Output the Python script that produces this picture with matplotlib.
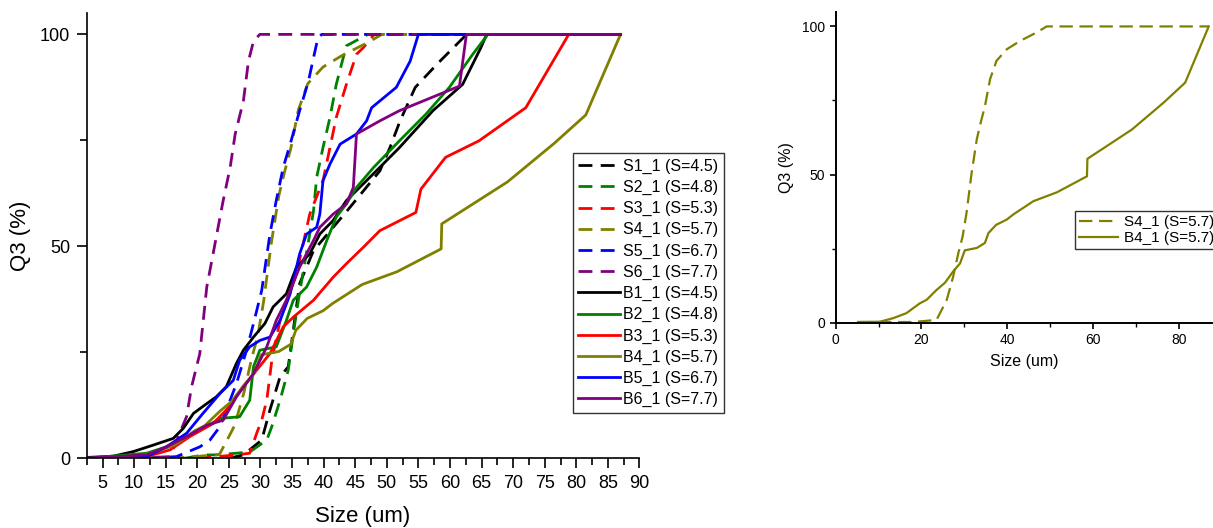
import matplotlib.pyplot as plt
from matplotlib.ticker import MultipleLocator

plt.rcParams['font.family'] = ['Liberation Sans', 'DejaVu Sans']

# Series labels and colours
labels_s = ['S1_1 (S=4.5)', 'S2_1 (S=4.8)', 'S3_1 (S=5.3)', 'S4_1 (S=5.7)', 'S5_1 (S=6.7)', 'S6_1 (S=7.7)']
labels_b = ['B1_1 (S=4.5)', 'B2_1 (S=4.8)', 'B3_1 (S=5.3)', 'B4_1 (S=5.7)', 'B5_1 (S=6.7)', 'B6_1 (S=7.7)']
colors = ['#000000', '#008000', '#FF0000', '#808000', '#0000FF', '#800080']

# Dashed (S) curves
s1_x = [25, 27.3, 30.2, 31.5, 33.1, 34.4, 36.2, 38.4, 43.5, 48.9, 50.5, 52.1, 54.5, 57.9, 62.1, 62.6, 87]
s1_y = [0, 0.8, 4.3, 11.4, 19.2, 21.6, 41.2, 49, 58, 67.8, 73.3, 79.6, 87.5, 92.9, 99.2, 100, 100]
s2_x = [18, 21, 23, 26.2, 28.3, 31, 31.8, 33.1, 34.4, 35.2, 36, 36.8, 37.8, 38.4, 38.9, 39.9, 41, 42, 43.1, 43.6, 47, 87]
s2_y = [0, 0.8, 0.8, 1.2, 1.5, 4.3, 7.5, 13.7, 20.8, 29.4, 37.3, 44.3, 52.9, 58.4, 66.3, 73.3, 80.4, 88.2, 94.5, 97.3, 100, 100]
s3_x = [20, 26.2, 28.3, 29.4, 30.2, 31, 31.8, 33.1, 35.7, 37.8, 39.9, 41, 42, 43.6, 45.2, 46.3, 48, 87]
s3_y = [0, 0.8, 1.2, 5.9, 9, 13.7, 23.1, 32.5, 43.5, 57.6, 65.5, 73.3, 80.4, 88.2, 95.3, 96.9, 100, 100]
s4_x = [5.2, 18, 23.5, 25.1, 25.9, 27.4, 28.6, 29.6, 30.5, 31.7, 32.9, 33.7, 34.8, 36, 37.5, 39.9, 43, 46.9, 49.2, 87]
s4_y = [0.2, 0.2, 0.9, 5.4, 7.7, 15.6, 23.5, 29.1, 37, 50.6, 61.9, 66.9, 73.1, 82.2, 88.4, 92.3, 95.1, 98, 100, 100]
s5_x = [12, 16.7, 20.4, 22, 23.6, 26.2, 27.8, 28.9, 30.2, 31.5, 32.5, 33.6, 34.7, 36.2, 37.6, 38.4, 39.1, 39.7, 87]
s5_y = [0, 0.4, 2.7, 4.3, 7.5, 17.6, 25.5, 31.8, 39.6, 52.9, 60.8, 68.6, 74.1, 82, 89, 94.5, 99.2, 100, 100]
s6_x = [10, 15.7, 17.2, 18.3, 19.1, 20.4, 21.5, 22.5, 23.6, 24.1, 25.2, 26, 27.3, 28.1, 28.9, 29.9, 87]
s6_y = [0, 0.4, 5.9, 9.8, 16.9, 24.7, 40.4, 48.2, 56.9, 60.8, 68.6, 76.5, 84.3, 93.7, 98.4, 100, 100]

# Solid (B) curves
b1_x = [2.5, 6.7, 9.9, 13, 16.2, 17.8, 19.4, 21.5, 23, 24.6, 26.2, 27.3, 28.9, 30.7, 32, 34.1, 35.7, 37.8,
        39.4, 41.5, 43.6, 47.8, 52, 57.3, 62, 64.9, 65.8, 87]
b1_y = [0.2, 0.5, 1.6, 3.1, 4.7, 7.1, 10.6, 12.9, 14.5, 16.9, 22.4, 25.5, 28.6, 31.8, 35.7, 38.8, 45.1, 48.2,
        52.9, 56.1, 60.8, 67, 73.3, 82, 88.2, 96.9, 100, 100]
b2_x = [2.5, 12, 15.1, 18.3, 21.5, 23.6, 26.7, 28.3, 28.9, 29.9, 32.5, 34.1, 35.2, 37.3, 38.9, 40.5, 42,
        43.6, 45.2, 47.9, 52, 56.2, 59.9, 63.6, 66, 87]
b2_y = [0, 1.2, 2.7, 5.1, 7.5, 9.4, 9.8, 13.7, 21.6, 25.5, 26.3, 32.5, 37.3, 40.4, 45.1, 51.4, 56.9,
        60, 63.9, 68.6, 74.9, 81.2, 87.5, 95.3, 100, 100]
b3_x = [2.5, 12, 15.7, 18.8, 22.5, 24.6, 27.3, 29.4, 31.5, 33.6, 35.2, 38.4, 41.5, 43.6, 46.3, 48.9,
        54.6, 55.4, 59.3, 64.6, 72, 78.8, 87]
b3_y = [0, 0.4, 2, 5.1, 8.2, 11.4, 16.9, 20.8, 24.7, 31, 33.3, 37.3, 42.7, 45.9, 49.8, 53.7,
        58, 63.5, 71, 74.9, 82.7, 100, 100]
b4_x = [5.2, 10.3, 13.4, 16.5, 19.6, 21.2, 23.5, 25.5, 27.4, 29, 30.1, 32.9, 34.8, 35.6, 37.4, 39.9,
        41.4, 46.1, 51.6, 58.6, 58.7, 69.1, 76.5, 81.5, 87]
b4_y = [0.2, 0.3, 1.5, 3.2, 6.5, 7.7, 11, 13.5, 17.3, 20, 24.4, 25.2, 26.9, 30.2, 33, 34.8,
        36.5, 41, 44, 49.4, 55.3, 65.2, 74.3, 81, 100]
b5_x = [2.5, 12, 15.1, 18.3, 20.9, 23.6, 25.7, 26.7, 28.3, 29.9, 31.5, 33.1, 34.7, 36.2, 37.3, 38.9,
        39.4, 39.9, 41, 42.6, 45.2, 46.8, 47.6, 51.5, 53.7, 55, 87]
b5_y = [0, 0.4, 2.7, 5.9, 10.6, 15.3, 18.4, 23.1, 26.3, 27.8, 28.6, 32.5, 38.8, 48.2, 52.9, 54.5,
        57.6, 65.5, 69.4, 74.1, 76.5, 79.6, 82.7, 87.5, 93.7, 100, 100]
b6_x = [2.5, 12, 15.1, 18.3, 21.5, 24.1, 26.2, 28.9, 31, 32.5, 34.1, 36.2, 38.4, 39.4, 41.5, 43.6,
        44.7, 45.2, 48.9, 52, 61.5, 62.6, 87]
b6_y = [0, 0.8, 2.7, 5.1, 7.8, 9, 14.5, 20, 26.3, 32.5, 37.3, 45.1, 51.4, 54.5, 57.6, 60,
        63.9, 76.5, 79.6, 82, 87.8, 100, 100]

s_curves = [(s1_x, s1_y), (s2_x, s2_y), (s3_x, s3_y), (s4_x, s4_y), (s5_x, s5_y), (s6_x, s6_y)]
b_curves = [(b1_x, b1_y), (b2_x, b2_y), (b3_x, b3_y), (b4_x, b4_y), (b5_x, b5_y), (b6_x, b6_y)]

DASH = (5, 3)
LW = 2.0

fig = plt.figure(figsize=(12.13, 5.28), dpi=100)

# Left panel: all samples
ax = fig.add_axes([0.0715, 0.132, 0.4557, 0.843])
for (x, y), c, lab in zip(s_curves, colors, labels_s):
    ax.plot(x, y, color=c, lw=LW, dashes=DASH, label=lab)
for (x, y), c, lab in zip(b_curves, colors, labels_b):
    ax.plot(x, y, color=c, lw=LW, label=lab)

ax.set_xlim(2.5, 90)
ax.set_ylim(0, 105)
ax.xaxis.set_major_locator(MultipleLocator(5))
ax.xaxis.set_minor_locator(MultipleLocator(2.5))
ax.yaxis.set_major_locator(MultipleLocator(50))
ax.yaxis.set_minor_locator(MultipleLocator(25))
for side in ['top', 'right']:
    ax.spines[side].set_visible(False)
for side in ['left', 'bottom']:
    ax.spines[side].set_linewidth(1.2)
ax.tick_params(which='major', direction='out', length=7, width=1.2, labelsize=13, pad=5)
ax.tick_params(which='minor', direction='out', length=5, width=1.2)
ax.set_xlabel('Size (um)', fontsize=16, labelpad=10)
ax.set_ylabel('Q3 (%)', fontsize=16, labelpad=6)
leg = ax.legend(loc='upper left', bbox_to_anchor=(0.472, 0.71), bbox_transform=fig.transFigure,
                fontsize=11.5, frameon=True, fancybox=False, framealpha=1, edgecolor='#333333',
                handlelength=2.6, handletextpad=0.2, labelspacing=0.38, borderpad=0.35, borderaxespad=0)
leg.get_frame().set_linewidth(1.0)

# Right panel: S4 vs B4
ax2 = fig.add_axes([0.689, 0.389, 0.311, 0.589])
ax2.plot(s4_x, s4_y, color=colors[3], lw=1.6, dashes=(6, 3), label=labels_s[3])
ax2.plot(b4_x, b4_y, color=colors[3], lw=1.6, label=labels_b[3])
ax2.set_xlim(0, 88)
ax2.set_ylim(0, 105)
ax2.xaxis.set_major_locator(MultipleLocator(20))
ax2.xaxis.set_minor_locator(MultipleLocator(10))
ax2.yaxis.set_major_locator(MultipleLocator(50))
ax2.yaxis.set_minor_locator(MultipleLocator(25))
for side in ['top', 'right']:
    ax2.spines[side].set_visible(False)
for side in ['left', 'bottom']:
    ax2.spines[side].set_linewidth(1.4)
ax2.tick_params(which='major', direction='out', length=4, width=1.2, labelsize=10)
ax2.tick_params(which='minor', direction='out', length=3, width=1.0)
ax2.set_xlabel('Size (um)', fontsize=11.5, labelpad=5)
ax2.set_ylabel('Q3 (%)', fontsize=11.5, labelpad=6)
leg2 = ax2.legend(loc='upper left', bbox_to_anchor=(0.886, 0.60), bbox_transform=fig.transFigure,
                  fontsize=11, frameon=True, fancybox=False, framealpha=1, edgecolor='#333333',
                  handlelength=2.6, handletextpad=0.4, labelspacing=0.15, borderpad=0.25, borderaxespad=0)
leg2.get_frame().set_linewidth(1.0)

fig.savefig('out.png', dpi=100)
